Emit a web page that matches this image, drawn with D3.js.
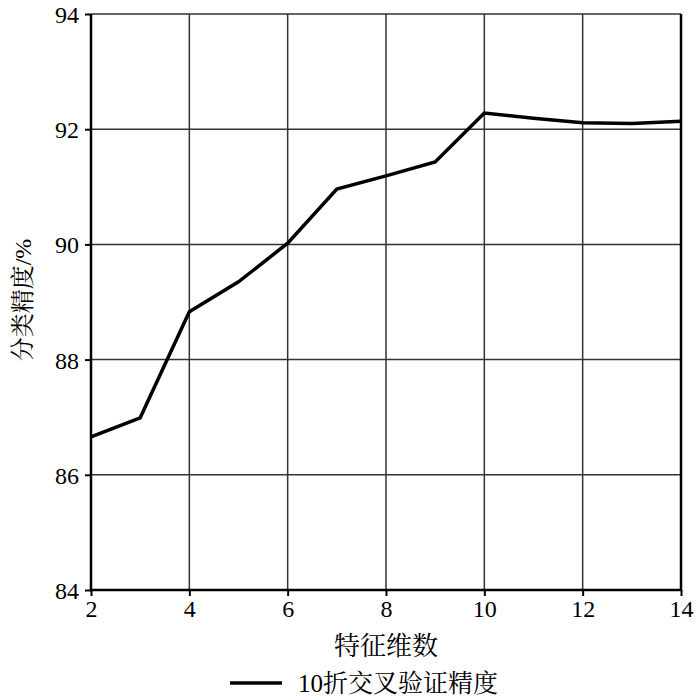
<!DOCTYPE html>
<html><head><meta charset="utf-8">
<script src="https://cdn.jsdelivr.net/npm/d3@7"></script>
<style>body{margin:0;background:#fff}</style>
</head><body>
<svg id="c" width="700" height="700"></svg>
<script>
const dims = [2,3,4,5,6,7,8,9,10,11,12,13,14];
const accuracy = [86.66,86.99,88.83,89.35,90.02,90.96,91.19,91.43,92.28,92.19,92.11,92.10,92.14];
const xTicks = [2,4,6,8,10,12,14];
const yTicks = [84,86,88,90,92,94];
const xLabel = "特征维数";
const yLabel = "分类精度/%";
const legendLabel = "10折交叉验证精度";

const svg = d3.select("#c");
const L = 91, R = 681, T = 14, B = 590;
const x = d3.scaleLinear().domain([2,14]).range([L,R]);
const y = d3.scaleLinear().domain([84,94]).range([B,T]);
const serif = "'Liberation Serif','Times New Roman','DejaVu Serif',serif";
const cjk = "'Liberation Serif','Times New Roman','Noto Serif CJK SC','Noto Sans CJK SC',serif";

svg.append("g").selectAll("line").data(xTicks).join("line")
  .attr("x1",d=>x(d)).attr("x2",d=>x(d)).attr("y1",T).attr("y2",B)
  .attr("stroke","#333").attr("stroke-width",1.5);
svg.append("g").selectAll("line").data(yTicks).join("line")
  .attr("x1",L).attr("x2",R).attr("y1",d=>y(d)).attr("y2",d=>y(d))
  .attr("stroke","#333").attr("stroke-width",1.5);

const xa = svg.append("g").attr("transform",`translate(0,${B})`)
  .call(d3.axisBottom(x).tickValues(xTicks).tickSize(6).tickPadding(4));
const ya = svg.append("g").attr("transform",`translate(${L},0)`)
  .call(d3.axisLeft(y).tickValues(yTicks).tickSize(6).tickPadding(6));
[xa,ya].forEach(a=>{
  a.attr("font-family",null).attr("font-size",null);
  a.select(".domain").remove();
  a.selectAll(".tick line").attr("stroke","#000").attr("stroke-width",2);
  a.selectAll(".tick text").style("font-family",serif).style("font-size","24px").attr("fill","#000");
});
ya.selectAll(".tick text").attr("dy","0.35em");

svg.append("path").attr("d",`M${L},${T}V${B}H${R}V${T}`)
  .attr("fill","none").attr("stroke","#000").attr("stroke-width",2.5);

svg.append("path").datum(dims.map((d,i)=>[d,accuracy[i]]))
  .attr("d",d3.line().x(d=>x(d[0])).y(d=>y(d[1])))
  .attr("fill","none").attr("stroke","#000").attr("stroke-width",3.5)
  .attr("stroke-linejoin","miter");

svg.append("text").attr("x",(L+R)/2).attr("y",655).attr("text-anchor","middle")
  .style("font-family",cjk).style("font-size","26px").attr("fill","#000").text(xLabel);
svg.append("text").attr("transform","translate(31,300) rotate(-90)").attr("text-anchor","middle")
  .style("font-family",cjk).style("font-size","24px").attr("fill","#000").text(yLabel);

svg.append("line").attr("x1",230).attr("x2",282).attr("y1",683).attr("y2",683)
  .attr("stroke","#000").attr("stroke-width",3.5);
svg.append("text").attr("x",298).attr("y",692)
  .style("font-family",cjk).style("font-size","25px").attr("fill","#000").text(legendLabel);
</script>
</body></html>
